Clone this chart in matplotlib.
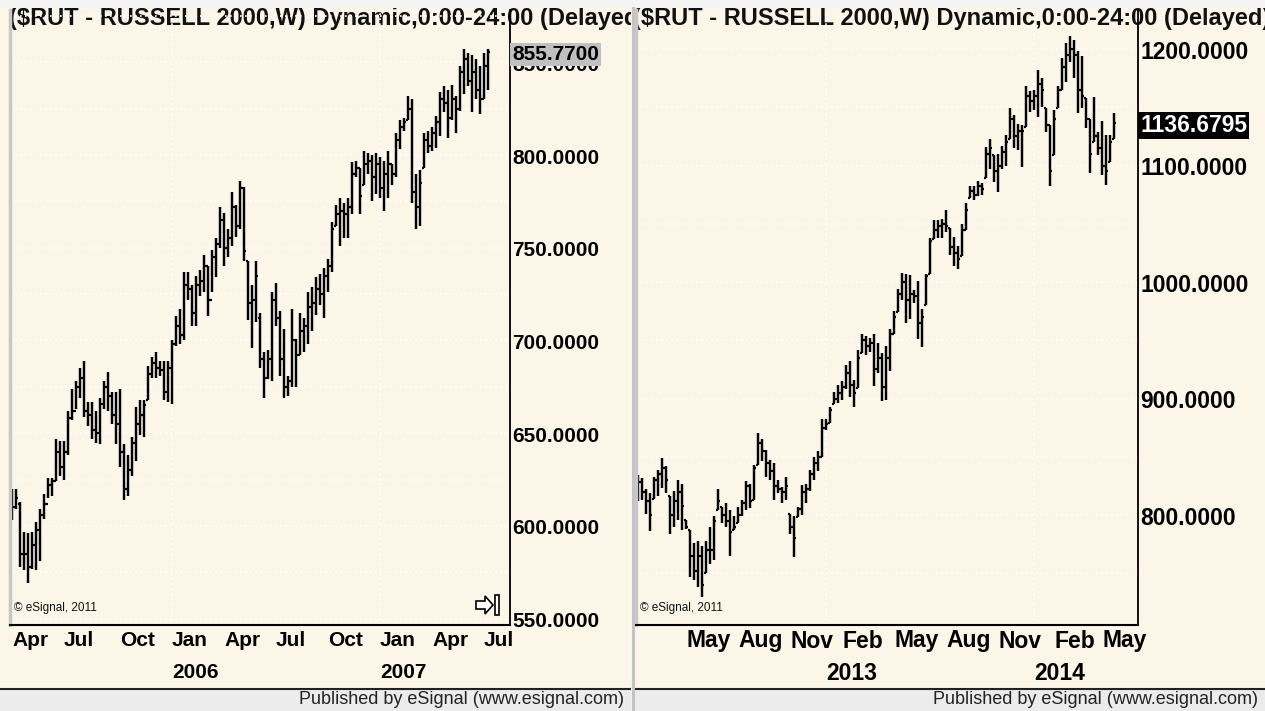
import numpy as np
import pandas as pd
import matplotlib
matplotlib.use("Agg")
import matplotlib.pyplot as plt
import matplotlib.transforms as mtransforms
from matplotlib.patches import Rectangle, Polygon

plt.rcParams['font.family'] = ['Liberation Sans', 'DejaVu Sans']

## data ---------------------------------------------------------------
# weekly bars of $RUT (open, high, low, close)
title = "($RUT - RUSSELL 2000,W) Dynamic,0:00-24:00 (Delayed)"

left_start = "2005-04-01"
left_open = [615, 610, 612, 585, 585, 578, 590, 598, 606, 612, 622, 624, 640, 632, 640, 658, 662, 675, 680, 662,
             660, 652, 650, 666, 675, 670, 660, 655, 640, 620, 630, 645, 655, 660, 668, 682, 688, 685, 684, 672,
             685, 698, 708, 703, 730, 728, 715, 730, 732, 740, 722, 745, 752, 765, 750, 755, 772, 762, 782, 743,
             720, 722, 712, 690, 680, 690, 722, 712, 690, 675, 678, 700, 692, 705, 708, 718, 720, 728, 725, 735,
             740, 762, 768, 770, 768, 772, 790, 793, 784, 795, 797, 788, 795, 782, 790, 795, 790, 808, 815, 819,
             825, 780, 772, 793, 808, 805, 812, 818, 830, 828, 820, 830, 825, 845, 852, 840, 845, 835, 830, 848]
left_high = [620, 620, 613, 597, 596, 597, 602, 609, 617, 626, 626, 647, 646, 646, 662, 674, 678, 685, 689, 667,
             667, 662, 669, 678, 683, 672, 672, 674, 644, 638, 648, 664, 668, 668, 686, 691, 694, 689, 689, 689,
             700, 713, 717, 737, 737, 730, 735, 738, 746, 740, 749, 755, 772, 769, 760, 780, 773, 786, 783, 743,
             730, 743, 715, 694, 695, 726, 731, 716, 706, 681, 717, 701, 715, 712, 726, 729, 734, 736, 739, 744,
             764, 773, 777, 774, 777, 796, 797, 793, 802, 801, 800, 801, 799, 797, 802, 795, 812, 819, 820, 832,
             830, 790, 792, 812, 813, 815, 821, 834, 837, 835, 838, 832, 848, 857, 855, 854, 852, 848, 855, 857]
left_low = [603, 609, 578, 576, 569, 577, 576, 581, 604, 615, 616, 624, 627, 625, 638, 657, 663, 669, 659, 654,
            647, 645, 644, 663, 662, 655, 644, 632, 614, 616, 627, 635, 649, 648, 668, 680, 680, 681, 668, 667,
            666, 697, 698, 700, 722, 708, 708, 724, 726, 713, 726, 734, 750, 740, 745, 751, 756, 760, 743, 711,
            696, 710, 685, 669, 679, 678, 708, 681, 669, 670, 675, 675, 692, 694, 698, 705, 714, 719, 712, 726,
            737, 762, 751, 755, 755, 768, 788, 768, 784, 790, 775, 779, 777, 770, 777, 784, 788, 803, 813, 819,
            774, 760, 762, 793, 801, 802, 804, 810, 823, 809, 819, 812, 824, 833, 837, 823, 830, 822, 830, 835]
left_close = [610, 615, 585, 585, 578, 590, 598, 606, 612, 622, 624, 640, 632, 640, 658, 662, 675, 680, 662, 660,
              652, 650, 666, 675, 670, 660, 655, 640, 620, 630, 645, 655, 660, 665, 682, 688, 685, 684, 672, 685,
              698, 708, 703, 730, 728, 715, 730, 732, 740, 722, 745, 752, 765, 750, 755, 772, 762, 782, 748, 720,
              722, 735, 690, 680, 690, 722, 712, 690, 675, 678, 700, 692, 705, 708, 718, 720, 728, 725, 735, 740,
              760, 768, 770, 768, 772, 790, 793, 778, 795, 797, 788, 795, 782, 790, 795, 790, 808, 815, 818, 825,
              780, 772, 785, 808, 805, 812, 818, 830, 828, 820, 830, 825, 845, 852, 840, 845, 835, 830, 848, 855.77]
left_ticks = [550, 600, 650, 700, 750, 800, 850]
left_grid = [550, 575, 600, 625, 650, 675, 700, 725, 750, 775, 800, 825, 850, 875]

right_start = "2012-02-10"
right_open = [825, 828, 820, 812, 814, 830, 835, 840, 816, 800, 812, 820, 796, 787, 765, 752, 765, 750, 770, 770,
              804, 807, 800, 795, 787, 793, 800, 810, 825, 813, 843, 862, 855, 845, 838, 825, 822, 820, 801, 790,
              798, 805, 820, 822, 835, 845, 850, 875, 879, 895, 900, 905, 910, 922, 912, 909, 939, 950, 945, 948,
              925, 935, 910, 935, 955, 974, 990, 1000, 985, 990, 988, 965, 980, 1007, 1037, 1045, 1048, 1050, 1046, 1030,
              1025, 1022, 1045, 1072, 1078, 1075, 1082, 1089, 1110, 1109, 1095, 1100, 1112, 1123, 1140, 1125, 1130, 1133, 1160, 1155,
              1160, 1170, 1149, 1135, 1109, 1149, 1165, 1185, 1195, 1200, 1195, 1165, 1158, 1140, 1120, 1125, 1115, 1100, 1103, 1123]
right_high = [834, 832, 822, 819, 833, 839, 849, 842, 816, 821, 830, 827, 796, 787, 776, 778, 773, 778, 790, 799,
              822, 807, 810, 804, 799, 807, 813, 829, 827, 843, 870, 865, 856, 847, 845, 830, 824, 833, 801, 799,
              807, 826, 827, 839, 850, 855, 882, 882, 893, 906, 912, 915, 929, 932, 916, 942, 955, 954, 952, 955,
              948, 939, 945, 960, 975, 994, 1008, 1007, 1006, 993, 1001, 977, 1007, 1038, 1053, 1053, 1054, 1062, 1046, 1039,
              1031, 1050, 1068, 1082, 1082, 1087, 1085, 1116, 1123, 1109, 1110, 1117, 1126, 1149, 1143, 1136, 1135, 1168, 1164, 1165,
              1182, 1175, 1149, 1135, 1148, 1168, 1192, 1205, 1211, 1208, 1198, 1194, 1158, 1140, 1159, 1129, 1138, 1126, 1126, 1145]
right_low = [812, 813, 801, 786, 814, 816, 823, 819, 784, 790, 796, 787, 788, 747, 744, 738, 730, 750, 758, 761,
             804, 793, 790, 765, 787, 793, 799, 804, 806, 813, 843, 846, 833, 830, 813, 819, 810, 813, 784, 764,
             798, 800, 810, 821, 830, 838, 850, 873, 879, 895, 896, 899, 908, 901, 893, 909, 939, 937, 940, 911,
             922, 898, 899, 924, 955, 974, 985, 965, 968, 982, 951, 944, 980, 1007, 1037, 1038, 1038, 1043, 1023, 1014,
             1011, 1022, 1045, 1072, 1070, 1074, 1075, 1089, 1097, 1086, 1077, 1097, 1100, 1123, 1115, 1113, 1099, 1133, 1146, 1148,
             1142, 1150, 1129, 1082, 1109, 1149, 1165, 1172, 1189, 1175, 1145, 1149, 1132, 1094, 1120, 1109, 1092, 1083, 1103, 1123]
right_close = [828, 820, 812, 800, 830, 835, 840, 830, 800, 812, 820, 808, 790, 765, 752, 765, 740, 770, 770, 795,
               812, 800, 795, 785, 790, 800, 810, 825, 812, 840, 862, 855, 845, 838, 825, 822, 820, 825, 790, 780,
               805, 820, 822, 835, 845, 850, 875, 878, 890, 900, 905, 910, 922, 912, 905, 935, 950, 945, 948, 925,
               935, 910, 935, 955, 970, 990, 1000, 985, 990, 988, 965, 970, 1005, 1035, 1045, 1048, 1050, 1048, 1030, 1025,
               1020, 1045, 1062, 1078, 1075, 1082, 1080, 1110, 1115, 1095, 1100, 1112, 1120, 1140, 1125, 1130, 1130, 1160, 1155, 1160,
               1170, 1165, 1135, 1095, 1140, 1165, 1185, 1195, 1200, 1195, 1165, 1160, 1140, 1110, 1125, 1115, 1100, 1095, 1120, 1136.6795]
right_ticks = [800, 900, 1000, 1100, 1200]
right_grid = [750, 800, 850, 900, 950, 1000, 1050, 1100, 1150, 1200]

## figure -------------------------------------------------------------
W, H = 1265, 711
CREAM = "#fcf6e9"
fig = plt.figure(figsize=(W / 100, H / 100), dpi=100)
fig.patch.set_facecolor("#f4f4f4")


def frac(x0, y0, x1, y1):
    # pixel box (origin top left) -> figure fraction
    return [x0 / W, 1 - y1 / H, (x1 - x0) / W, (y1 - y0) / H]


def panel(x0, x1, px0, px1, tx, start, o, h, l, c, ylim, xlim, ticks, grid, qmonths,
          last_fc, last_tc, fs):
    # background of the panel, in pixel units
    bg = fig.add_axes(frac(x0, 8, x1, H), zorder=0)
    bg.set_xlim(x0, x1)
    bg.set_ylim(H, 8)
    bg.set_facecolor(CREAM)
    bg.set_xticks([])
    bg.set_yticks([])
    for s in bg.spines.values():
        s.set_visible(False)
    bg.add_patch(Rectangle((x0, 689), x1 - x0, H - 689, fc="#ececec", ec="none"))
    bg.plot([x0, x1], [688.5, 688.5], color="#222222", lw=1.5)
    bg.text(tx, 19, title, fontsize=17, fontweight="bold", va="center", ha="left",
            color="#111111", clip_on=True)
    bg.text(x1 - 7, 700, "Published by eSignal (www.esignal.com)", fontsize=13,
            ha="right", va="center", color="#222222")
    bg.text(px0 + 4, 608, "\u00a9 eSignal, 2011", fontsize=8.5, ha="left", va="center", color="#111111")

    ax = fig.add_axes(frac(px0, 10, px1, 625), zorder=1)
    ax.set_facecolor("none")
    ax.set_xlim(*xlim)
    ax.set_ylim(*ylim)
    ax.set_yticks(grid)
    dates = pd.date_range(start, periods=len(c), freq="7D")
    jan = [i for i in range(1, len(dates)) if dates[i].year != dates[i - 1].year]
    ax.set_xticks(jan)
    ax.tick_params(length=0, labelleft=False, labelbottom=False)
    ax.grid(True, color="white", ls=(0, (1, 2)), lw=1.2)
    ax.spines["top"].set_visible(False)
    ax.spines["left"].set_color("#c8c8c8")
    ax.spines["left"].set_linewidth(2.5)
    ax.spines["right"].set_linewidth(1.3)
    ax.spines["bottom"].set_linewidth(1.5)

    idx = np.arange(len(c))
    ax.vlines(idx, l, h, color="black", lw=1.75)
    ax.hlines(o, idx - 0.6, idx, color="black", lw=1.6)
    ax.hlines(c, idx, idx + 0.6, color="black", lw=1.6)

    # price scale on the right
    tr = mtransforms.blended_transform_factory(ax.transAxes, ax.transData)
    tr = tr + mtransforms.ScaledTranslation(2 / 100, -3 / 100, fig.dpi_scale_trans)
    for v in ticks:
        ax.text(1, v, f"{v:.4f}", transform=tr, fontsize=fs, fontweight="bold",
                ha="left", va="center", clip_on=False)
    ax.text(1, c[-1], f"{c[-1]:.4f}", transform=tr, fontsize=fs, fontweight="bold",
            ha="left", va="center", color=last_tc, clip_on=False, zorder=5,
            bbox=dict(boxstyle="square,pad=0.08", fc=last_fc, ec="none"))

    # date scale, a label on the first bar of each quarter month
    trx = mtransforms.blended_transform_factory(ax.transData, bg.transData)
    for i in range(len(dates)):
        if dates[i].month in qmonths and dates[i].day <= 7:
            ax.text(i, 641, dates[i].strftime("%b"), transform=trx, fontsize=fs,
                    fontweight="bold", ha="left", va="center", clip_on=False)
    for i in jan:
        ax.text(i, 673, str(dates[i].year), transform=trx, fontsize=fs,
                fontweight="bold", ha="left", va="center", clip_on=False)
    return bg, ax


bgL, axL = panel(0, 631, 10, 510, 9, left_start, left_open, left_high, left_low, left_close,
                 (546.6, 878.2), (-0.5, 124.5), left_ticks, left_grid, (1, 4, 7, 10),
                 "#c0c0c0", "black", 15)
bgR, axR = panel(634, W, 636, 1138, 633, right_start, right_open, right_high, right_low, right_close,
                 (705.6, 1233.5), (-0.5, 125), right_ticks, right_grid, (2, 5, 8, 11),
                 "black", "white", 16.5)

# separator between the two charts
fig.add_artist(plt.Line2D([632.5 / W, 632.5 / W], [0, 1 - 8 / H], color="#c4c4c4", lw=2.2))

# little scroll arrow at the right end of the left chart
bgL.add_patch(Polygon([(476, 601), (485, 601), (485, 596), (493, 605), (485, 614), (485, 609), (476, 609)],
                      closed=True, fc="white", ec="black", lw=1.2, zorder=3))
bgL.add_patch(Rectangle((495, 595), 4, 20, fc="white", ec="black", lw=1.2, zorder=3))

fig.savefig("out.png", dpi=100, facecolor=fig.get_facecolor())
